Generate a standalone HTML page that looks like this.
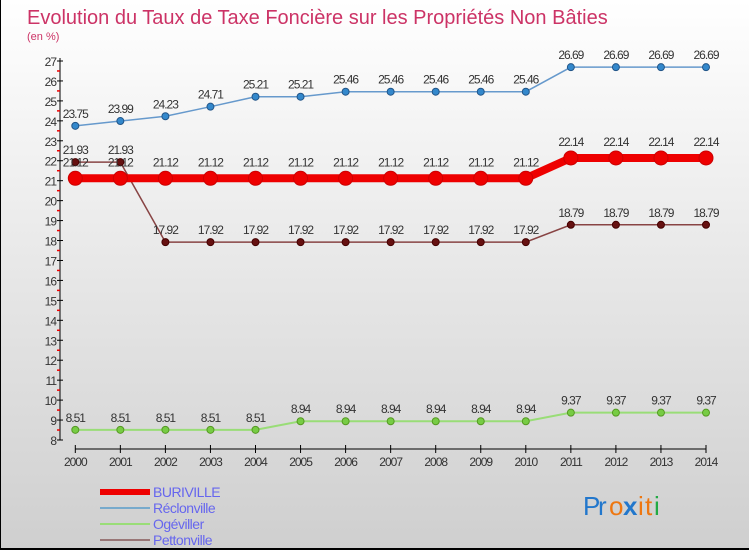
<!DOCTYPE html>
<html><head><meta charset="utf-8">
<style>
html,body{margin:0;padding:0}
body{width:750px;height:550px;overflow:hidden;font-family:"Liberation Sans",sans-serif}
#wrap{position:relative;width:748px;height:548px;border-left:1px solid #000;border-bottom:2px solid #000;background:linear-gradient(#ffffff,#cfcfcf)}
</style></head>
<body>
<div id="wrap">
<svg id="chart" width="750" height="550" style="position:absolute;left:-1px;top:0">
<text x="27" y="24" font-size="20" fill="#cc3366">Evolution du Taux de Taxe Foncière sur les Propriétés Non Bâties</text>
<text x="27" y="40" font-size="11" fill="#cc3366">(en %)</text>
</svg>
</div>
<script>
const years=[2000,2001,2002,2003,2004,2005,2006,2007,2008,2009,2010,2011,2012,2013,2014];
const yTicks=[8,9,10,11,12,13,14,15,16,17,18,19,20,21,22,23,24,25,26,27];
const seriesNames=["BURIVILLE","Réclonville","Ogéviller","Pettonville"];
const buriville=[21.12,21.12,21.12,21.12,21.12,21.12,21.12,21.12,21.12,21.12,21.12,22.14,22.14,22.14,22.14];
const reclonville=[23.75,23.99,24.23,24.71,25.21,25.21,25.46,25.46,25.46,25.46,25.46,26.69,26.69,26.69,26.69];
const ogeviller=[8.51,8.51,8.51,8.51,8.51,8.94,8.94,8.94,8.94,8.94,8.94,9.37,9.37,9.37,9.37];
const pettonville=[21.93,21.93,17.92,17.92,17.92,17.92,17.92,17.92,17.92,17.92,17.92,18.79,18.79,18.79,18.79];

const svg=document.getElementById('chart');
const NS='http://www.w3.org/2000/svg';
const x0=75.3,x1=706,y8=440,y27=61;
const xS=i=>x0+(x1-x0)*i/(years.length-1);
const yS=v=>y8-(v-8)*(y8-y27)/19;
function el(t,a){const e=document.createElementNS(NS,t);for(const k in a)e.setAttribute(k,a[k]);svg.appendChild(e);return e;}

let ya=el('line',{x1:60,y1:y27-3,x2:60,y2:y8,stroke:'#000','stroke-width':1});


yTicks.forEach((v,i)=>{
  const y=yS(v);
  let t=el('line',{x1:57,y1:y,x2:63,y2:y,stroke:'#000'});
  
  
  let l=el('text',{x:56,y:y+5,'font-size':12,'text-anchor':'end',fill:'#333','letter-spacing':'-1'});
  l.textContent=v;
  
  
  if(i<yTicks.length-1){
    let m=el('line',{x1:57,y1:yS(v+0.5),x2:60,y2:yS(v+0.5),stroke:'#e00','stroke-width':1.5});
    
    
  }
});
let xa=el('line',{x1:x0,y1:449,x2:x1,y2:449,stroke:'#000'});


years.forEach((yr,i)=>{
  const x=xS(i);
  let t=el('line',{x1:x,y1:445,x2:x,y2:453,stroke:'#000'});
  
  
  let l=el('text',{x:x,y:466,'font-size':12,'text-anchor':'middle',fill:'#333','letter-spacing':'-1'});
  l.textContent=yr;
  
  
});

function series(data,name,color,width,r,dot,dotStroke,labelDy){
  const pts=data.map((v,i)=>xS(i)+','+yS(v)).join(' ');
  let p=el('polyline',{points:pts,fill:'none',stroke:color,'stroke-width':width});
  
  
  data.forEach((v,i)=>{
    let c=el('circle',{cx:xS(i),cy:yS(v),r:r,fill:dot,stroke:dotStroke,'stroke-width':1});
    
    
    let t=el('text',{x:xS(i),y:yS(v)+labelDy,'font-size':12,'text-anchor':'middle',fill:'#333','letter-spacing':'-1'});
    t.textContent=v.toFixed(2);
    
    
  });
}
series(ogeviller,'ogeviller','#99dd77',2,3.5,'#77cc44','#559922',-8);
series(reclonville,'reclonville','#6699cc',1.5,3.5,'#3388cc','#225588',-8);
series(pettonville,'pettonville','#884444',1.5,3.5,'#661111','#440000',-8);
series(buriville,'buriville','#ee0000',8,7,'#ee0000','#cc0000',-12);

const legColors=['#ee0000','#77aacc','#99dd77','#997777'];
const legW=[6,2,2,2];
seriesNames.forEach((n,i)=>{
  const y=491+i*16;
  let l=el('line',{x1:100,y1:y+1,x2:150,y2:y+1,stroke:legColors[i],'stroke-width':legW[i]});
  
  
  let t=el('text',{x:153,y:y+6,'font-size':14,fill:'#6666ee','letter-spacing':'-0.5'});
  t.textContent=n;
  
  
});
const logo=[['P','#2277cc'],['r','#2277cc'],['o','#ee7711'],['x','#2277cc'],['i','#ee7711'],['t','#ee7711'],['i','#22aa44']];
let lx=583;
const lw=[15,11,14,15,7,9,7];
logo.forEach((c,i)=>{
  let t=el('text',{x:lx,y:515,'font-size':26,fill:c[1],'font-weight':i==3?'bold':'normal'});
  t.textContent=c[0];
  
  
  lx+=lw[i];
});
</script>
</body></html>
